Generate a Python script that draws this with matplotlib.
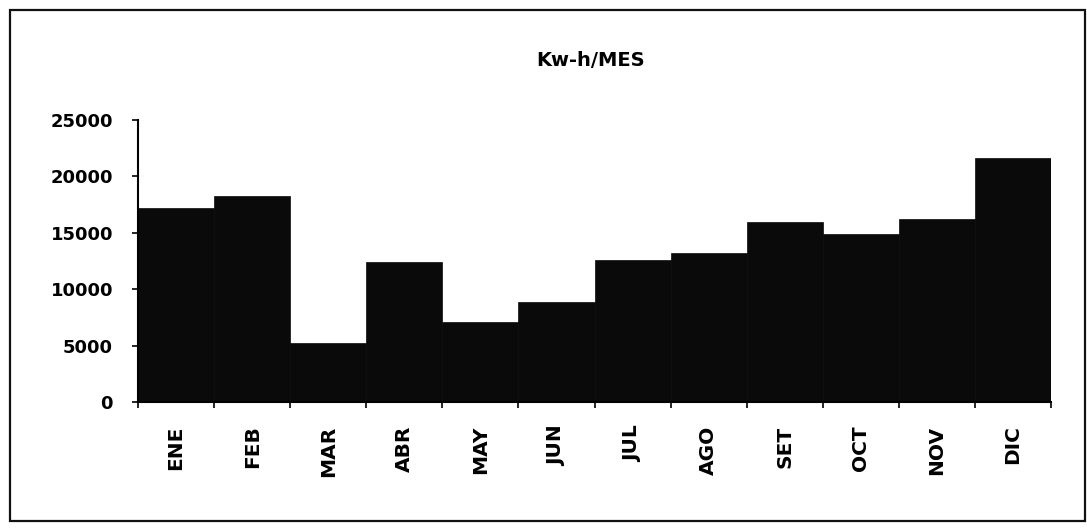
import matplotlib.pyplot as plt
from matplotlib.patches import Rectangle
import numpy as np

# Monthly energy consumption (kW-h)
meses = ['ENE', 'FEB', 'MAR', 'ABR', 'MAY', 'JUN',
         'JUL', 'AGO', 'SET', 'OCT', 'NOV', 'DIC']
consumo = [17200, 18300, 5250, 12400, 7100, 8900,
           12600, 13250, 15950, 14900, 16200, 21650]
yticks = [0, 5000, 10000, 15000, 20000, 25000]

fig = plt.figure(figsize=(10.87, 5.31), dpi=100)
ax = fig.add_axes([0.127, 0.243, 0.84, 0.531])

x = np.arange(len(meses))
ax.bar(x, consumo, width=1.0, color='#0a0a0a', edgecolor='#0a0a0a',
       linewidth=0.5, align='center')

ax.set_xlim(-0.5, len(meses) - 0.5)
ax.set_ylim(0, 25000)

# Ticks sit on category boundaries, labels on the centres
ax.set_xticks(np.arange(-0.5, len(meses), 1.0))
ax.set_xticklabels([])
ax.set_xticks(x, minor=True)
ax.set_xticklabels(meses, minor=True, rotation=90, va='top', ha='center',
                   fontsize=14.5, fontweight='bold', family='DejaVu Sans')
ax.tick_params(axis='x', which='minor', length=0, pad=17)
ax.tick_params(axis='x', which='major', direction='out', length=4, width=1.2)

ax.set_yticks(yticks)
ax.set_yticklabels([str(v) for v in yticks], fontsize=13,
                   fontweight='bold', family='DejaVu Sans')
ax.tick_params(axis='y', direction='out', length=4, width=1.2, pad=14)

for side in ['top', 'right']:
    ax.spines[side].set_visible(False)
for side in ['left', 'bottom']:
    ax.spines[side].set_linewidth(1.5)

fig.text(0.543, 0.887, 'Kw-h/MES', ha='center', va='center',
         fontsize=14, fontweight='bold', family='DejaVu Sans')

# Frame around the whole chart
fig.patches.append(Rectangle((10 / 1087, 10 / 531), 1075 / 1087, 511 / 531,
                             transform=fig.transFigure, fill=False,
                             edgecolor='#111111', linewidth=1.6))

plt.savefig('out.png', dpi=100, facecolor='white')
